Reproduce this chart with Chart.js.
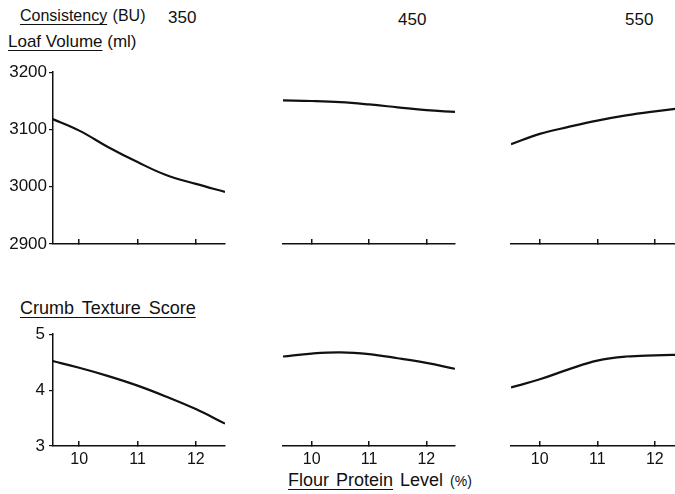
<!DOCTYPE html>
<html>
<head>
<meta charset="utf-8">
<script src="https://cdn.jsdelivr.net/npm/chart.js@4.4.1/dist/chart.umd.min.js"></script>
<style>
body { margin: 0; width: 675px; height: 494px; overflow: hidden; background: #fff;
       font-family: "Liberation Sans", Arial, sans-serif; color: #111; }
.t { position: absolute; white-space: nowrap; font-size: 17px; line-height: 20px; }
.t u { text-decoration: underline; text-underline-offset: 3px; text-decoration-thickness: 1px; }
canvas { position: absolute; }
</style>
</head>
<body>

<div class="t" style="left:20px;top:6px;font-size:16px;word-spacing:1px;"><u>Consistency</u> (BU)</div>
<div class="t" id="c350" style="left:168px;top:8px;"></div>
<div class="t" id="c450" style="left:398px;top:10px;"></div>
<div class="t" id="c550" style="left:625px;top:10px;"></div>
<div class="t" style="left:8px;top:32px;font-size:17px;"><u>Loaf Volume</u> (ml)</div>
<div class="t" style="left:20px;top:298px;font-size:18px;word-spacing:3px;"><u>Crumb Texture Score</u></div>
<div class="t" style="left:288px;top:470px;font-size:18px;word-spacing:2px;"><u>Flour Protein</u> Level <span style="font-size:14px">(%)</span></div>

<canvas id="v350" width="232" height="200" style="left:0;top:60px"></canvas>
<canvas id="v450" width="195" height="200" style="left:270px;top:60px"></canvas>
<canvas id="v550" width="175" height="200" style="left:500px;top:60px"></canvas>
<canvas id="t350" width="232" height="170" style="left:0;top:320px"></canvas>
<canvas id="t450" width="195" height="170" style="left:270px;top:320px"></canvas>
<canvas id="t550" width="175" height="170" style="left:500px;top:320px"></canvas>

<script>
// data
var proteinLevels = [9.5, 10, 10.5, 11, 11.5, 12, 12.5];
var proteinTicks  = [10, 11, 12];
var consistencies = ['350', '450', '550'];

var loafVolume350 = [3120, 3098, 3069, 3043, 3020, 3005, 2991];
var loafVolume450 = [3149, 3148, 3146, 3142, 3137, 3132, 3129];
var loafVolume550 = [3073, 3091, 3103, 3114, 3123, 3130, 3136];
var volumeTicks   = [2900, 3000, 3100, 3200];

var crumb350   = [4.53, 4.40, 4.25, 4.08, 3.88, 3.66, 3.40];
var crumb450   = [4.53, 4.58, 4.60, 4.57, 4.50, 4.42, 4.32];
var crumb550   = [4.00, 4.14, 4.31, 4.46, 4.53, 4.55, 4.56];
var crumbTicks = [3, 4, 5];

consistencies.forEach(function (c) {
    document.getElementById('c' + c).textContent = c;
});

var INK = '#111';
var FONT = '"Liberation Sans", Arial, sans-serif';

function makePanel(id, values, o) {
    var pts = proteinLevels.map(function (x, i) { return { x: x, y: values[i] }; });
    new Chart(document.getElementById(id).getContext('2d'), {
        type: 'line',
        data: { datasets: [{
            data: pts,
            borderColor: INK,
            borderWidth: 2.2,
            pointRadius: 0,
            tension: 0.4
        }] },
        options: {
            responsive: false,
            animation: false,
            devicePixelRatio: 1,
            layout: { padding: { left: o.padLeft, right: o.padRight, top: o.padTop, bottom: 0 } },
            plugins: { legend: { display: false }, tooltip: { enabled: false } },
            scales: {
                x: {
                    type: 'linear',
                    min: o.xMin, max: o.xMax,
                    afterBuildTicks: function (s) { s.ticks = proteinTicks.map(function (v) { return { value: v }; }); },
                    afterFit: function (s) { s.height = o.xAxisH; },
                    border: { display: true, color: INK, width: 1.5 },
                    grid: { drawOnChartArea: false, drawTicks: true, tickLength: -5, tickColor: INK, lineWidth: 1.5 },
                    ticks: { display: o.xLabels, color: INK, padding: 9, maxRotation: 0,
                             font: { family: FONT, size: 16 } }
                },
                y: {
                    display: o.showY,
                    min: o.yMin, max: o.yMax,
                    afterBuildTicks: function (s) { s.ticks = o.yTicks.map(function (v) { return { value: v }; }); },
                    afterFit: function (s) { s.width = o.showY ? 53 : 0; },
                    border: { display: true, color: INK, width: 1.5 },
                    grid: { drawOnChartArea: false, drawTicks: true, tickLength: 4, tickColor: INK, lineWidth: 1.2 },
                    ticks: { color: INK, padding: o.yPad, font: { family: FONT, size: 17 },
                             callback: function (v) { return String(v); } }
                }
            }
        }
    });
}

var volumeRow = { padTop: 11, xAxisH: 16, xLabels: false, yMin: 2900, yMax: 3200, yTicks: volumeTicks, yPad: 2 };
var crumbRow  = { padTop: 9, xAxisH: 44, xLabels: true, yMin: 3, yMax: 5, yTicks: crumbTicks, yPad: 4 };
var cols = [
    { showY: true,  padLeft: 0,  padRight: 7,  xMin: 9.55, xMax: 12.5 },
    { showY: false, padLeft: 13, padRight: 10, xMin: 9.5,  xMax: 12.5 },
    { showY: false, padLeft: 11, padRight: 0,  xMin: 9.5,  xMax: 12.35 }
];

function opts(row, col) { return Object.assign({}, row, col); }

makePanel('v350', loafVolume350, opts(volumeRow, cols[0]));
makePanel('v450', loafVolume450, opts(volumeRow, cols[1]));
makePanel('v550', loafVolume550, opts(volumeRow, cols[2]));
makePanel('t350', crumb350, opts(crumbRow, cols[0]));
makePanel('t450', crumb450, opts(crumbRow, cols[1]));
makePanel('t550', crumb550, opts(crumbRow, cols[2]));
</script>
</body>
</html>
